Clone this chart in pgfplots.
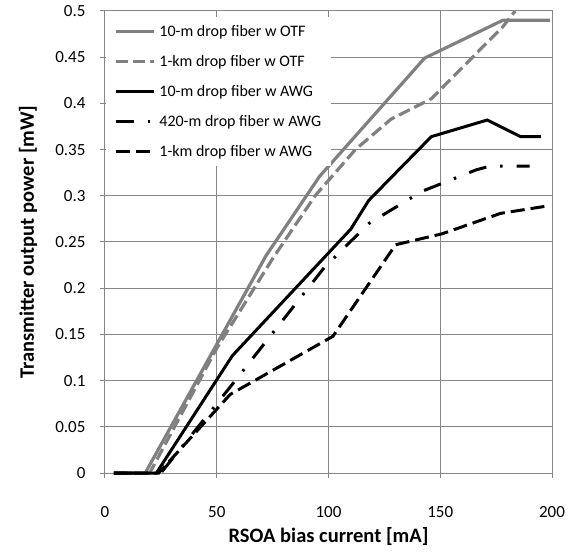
\documentclass[border=0pt]{standalone}
\usepackage{fontspec}
\setmainfont{Carlito}
\usepackage{pgfplots}
\pgfplotsset{compat=1.18}
\definecolor{otfgray}{RGB}{128,128,128}
\definecolor{gridgray}{RGB}{134,134,134}
\begin{document}
\begin{tikzpicture}
\begin{axis}[
  scale only axis, width=447pt, height=462pt,
  xmin=0, xmax=200, ymin=0, ymax=0.5,
  xtick={0,50,100,150,200},
  ytick={0,0.05,0.1,0.15,0.2,0.25,0.3,0.35,0.4,0.45,0.5},
  grid=major, major grid style={gridgray, line width=1pt},
  axis line style={gridgray, line width=1pt},
  tick style={gridgray, line width=1pt},
  tick align=outside, major tick length=5pt, tick pos=left,
  /pgf/number format/assume math mode=true,
  ticklabel style={font=\fontsize{17}{20}\selectfont},
  xticklabel style={anchor=center, yshift=-34pt},
  yticklabel style={/pgf/number format/.cd, fixed, precision=2, /tikz/.cd, xshift=-11pt},
  xlabel={RSOA bias current [mA]},
  ylabel={Transmitter output power [mW]},
  label style={font=\bfseries\fontsize{20.5}{24}\selectfont},
  xlabel style={at={(axis description cs:0.5,0)}, anchor=center, yshift=-64pt},
  ylabel style={at={(axis description cs:0,0.5)}, anchor=center, yshift=77pt},
  clip=false,
  legend cell align=left,
  legend style={at={(axis description cs:0,1)}, anchor=north west, xshift=1pt, yshift=-6pt,
    fill=white, draw=none, inner xsep=8pt, inner ysep=6pt,
    font=\fontsize{16}{19}\selectfont, row sep=13.5pt, column sep=2pt},
  legend image code/.code={\draw[#1] (0pt,0pt) -- (38pt,0pt);},
]
\coordinate (sw) at (rel axis cs:0,0);
\coordinate (ne) at (rel axis cs:1,1);
\addplot[otfgray, line width=3.2pt] coordinates {(4,0) (18,0) (72,0.235) (96,0.321) (143,0.449) (178,0.49) (199,0.49)};
\addlegendentry{10-m drop fiber w OTF}
\addplot[otfgray, line width=3.2pt, dash pattern=on 12pt off 5pt] coordinates {(4,0) (20,0) (50,0.135) (75,0.232) (94,0.30) (112,0.35) (128,0.383) (146,0.405) (178,0.483) (183.5,0.5)};
\addlegendentry{1-km drop fiber w OTF}
\addplot[black, line width=3pt] coordinates {(4,0) (23,0) (57,0.127) (110,0.264) (118,0.295) (146,0.364) (171,0.382) (186,0.364) (195,0.364)};
\addlegendentry{10-m drop fiber w AWG}
\addplot[black, line width=3pt, dash pattern=on 18pt off 14pt on 2.5pt off 14pt] coordinates {(4,0) (25,0) (55,0.09) (98,0.222) (118,0.27) (142,0.305) (166,0.328) (172,0.332) (190,0.332)};
\addlegendentry{420-m drop fiber w AWG}
\addplot[black, line width=3pt, dash pattern=on 14pt off 6pt] coordinates {(4,0) (24,0) (56,0.085) (102,0.148) (130,0.247) (151,0.259) (177,0.281) (198,0.289)};
\addlegendentry{1-km drop fiber w AWG}
\end{axis}
\pgfresetboundingbox
\path ([shift={(-105pt,-80pt)}]sw) rectangle ([shift={(25pt,11pt)}]ne);
\end{tikzpicture}
\end{document}
